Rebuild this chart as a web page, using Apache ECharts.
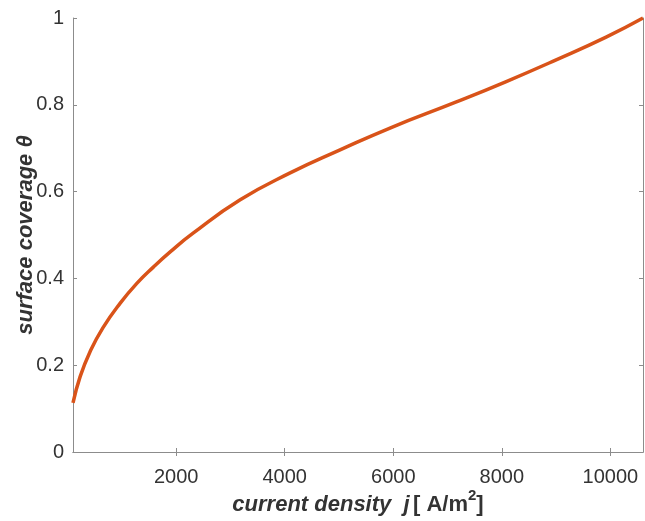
<!DOCTYPE html>
<html>
<head>
<meta charset="utf-8">
<script src="https://cdn.jsdelivr.net/npm/echarts@6/dist/echarts.min.js"></script>
<style>
html,body{margin:0;padding:0;background:#fff;}
#chart{width:645px;height:521px;}
</style>
</head>
<body>
<div id="chart"></div>
<script>
const currentDensity = [100, 230, 410, 650, 970, 1280, 1580, 1890, 2300, 3180, 4100, 5020, 5950, 7150, 8070, 8990, 9920, 10600];
const coverage = [0.113, 0.173, 0.230, 0.286, 0.343, 0.389, 0.426, 0.461, 0.503, 0.581, 0.643, 0.696, 0.747, 0.806, 0.853, 0.903, 0.956, 1.0];
const xTicks = [2000, 4000, 6000, 8000, 10000];
const yTicks = [0, 0.2, 0.4, 0.6, 0.8, 1];
const xMin = 100, xMax = 10600;

const axisColor = '#8c8c8c';
const labelColor = '#333333';
const fontFam = '"Liberation Sans", Arial, sans-serif';

const chart = echarts.init(document.getElementById('chart'));
const baseX = {
  type: 'value', min: xMin, max: xMax,
  axisLine: {show: true, lineStyle: {color: axisColor, width: 1}},
  axisTick: {show: true, inside: true, length: 4, customValues: xTicks, lineStyle: {color: axisColor}},
  splitLine: {show: false}
};
const baseY = {
  type: 'value', min: 0, max: 1,
  axisLine: {show: true, lineStyle: {color: axisColor, width: 1}},
  axisTick: {show: true, inside: true, length: 4, customValues: yTicks, lineStyle: {color: axisColor}},
  splitLine: {show: false}
};
chart.setOption({
  animation: false,
  grid: {left: 73, top: 18, right: 2, bottom: 69, containLabel: false, outerBoundsMode: 'none'},
  xAxis: [
    Object.assign({}, baseX, {
      position: 'bottom',
      axisLabel: {show: true, customValues: xTicks, color: labelColor, fontSize: 20, fontFamily: fontFam, margin: 15,
        formatter: v => String(v)},
      name: '{i|current density  j} {n|[ A/m}{s|2}{n|]}',
      nameLocation: 'middle',
      nameGap: 36,
      nameMoveOverlap: false,
      nameTextStyle: {
        rich: {
          i: {fontSize: 22, fontWeight: 'bold', fontStyle: 'italic', fontFamily: fontFam, color: labelColor, lineHeight: 28, verticalAlign: 'bottom'},
          n: {fontSize: 22, fontWeight: 'bold', fontFamily: fontFam, color: labelColor, lineHeight: 28, verticalAlign: 'bottom'},
          s: {fontSize: 15, fontWeight: 'bold', fontFamily: fontFam, color: labelColor, lineHeight: 28, verticalAlign: 'top'}
        }
      }
    }),
    Object.assign({}, baseX, {position: 'top', axisLabel: {show: false}})
  ],
  yAxis: [
    Object.assign({}, baseY, {
      position: 'left',
      axisLabel: {show: true, customValues: yTicks, color: labelColor, fontSize: 20, fontFamily: fontFam, margin: 9,
        formatter: v => String(v)},
      name: 'surface coverage θ',
      nameLocation: 'middle',
      nameGap: 36,
      nameMoveOverlap: false,
      nameTextStyle: {fontSize: 22, fontWeight: 'bold', fontStyle: 'italic', fontFamily: fontFam, color: labelColor}
    }),
    Object.assign({}, baseY, {position: 'right', axisLabel: {show: false}})
  ],
  series: [{
    type: 'line',
    data: currentDensity.map((x, i) => [x, coverage[i]]),
    smooth: 0.5,
    showSymbol: false,
    lineStyle: {color: '#D95319', width: 3.5},
    clip: false
  }]
});
</script>
</body>
</html>
